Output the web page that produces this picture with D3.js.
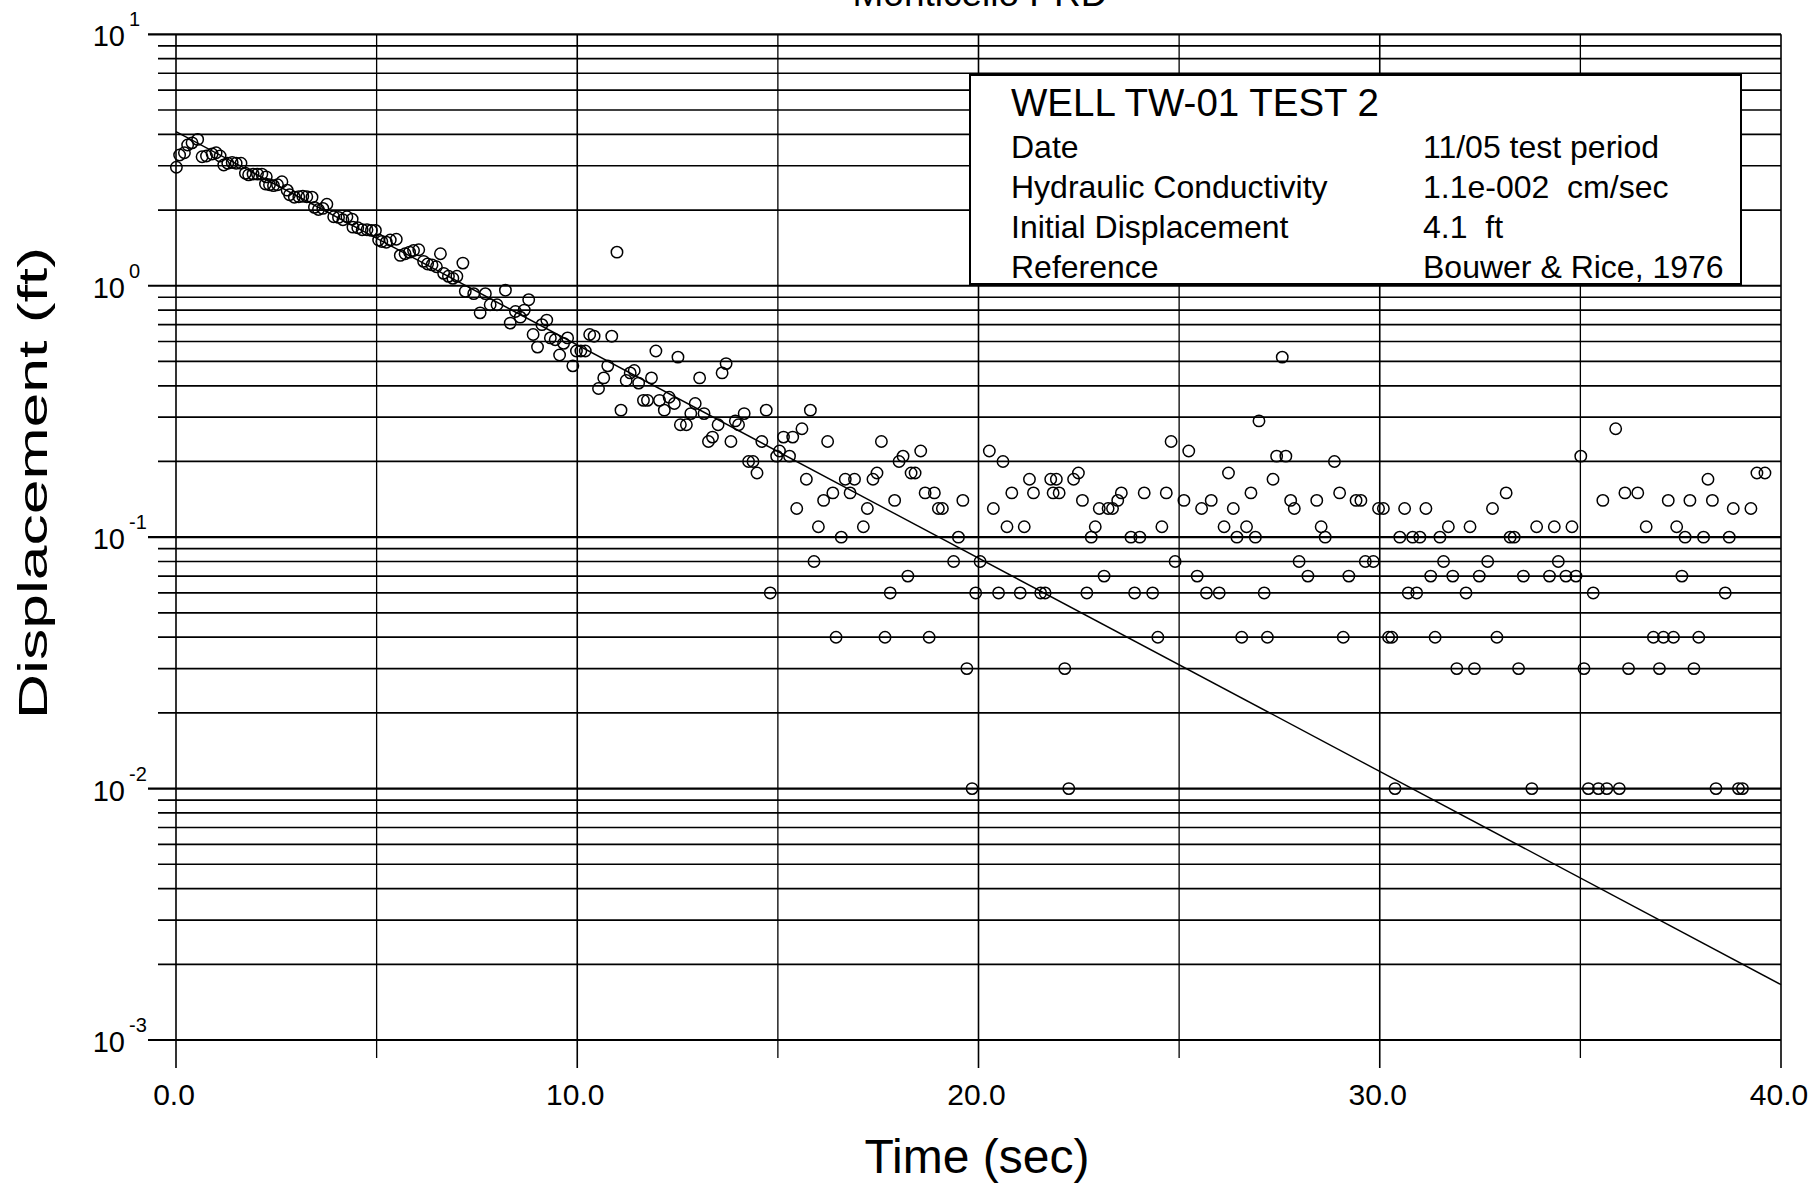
<!DOCTYPE html>
<html><head><meta charset="utf-8">
<script src="https://cdn.jsdelivr.net/npm/d3@7/dist/d3.min.js"></script>
<style>
html,body{margin:0;padding:0;background:#fff;}
svg{display:block;font-family:"Liberation Sans",Arial,Helvetica,sans-serif;}
</style></head><body>
<svg id="chart" width="1818" height="1186"></svg>
<script>
// ---- data ----
const times = [0.01,0.09,0.21,0.29,0.40,0.54,0.65,0.76,0.90,1.00,1.10,1.19,1.29,1.40,1.50,1.62,1.73,1.81,1.92,2.03,
2.14,2.23,2.25,2.33,2.43,2.53,2.64,2.77,2.83,2.95,3.06,3.16,3.26,3.39,3.45,3.55,3.66,3.76,3.93,4.05,
4.16,4.26,4.39,4.41,4.53,4.64,4.76,4.87,4.97,5.05,5.13,5.24,5.34,5.49,5.59,5.71,5.82,5.92,6.05,6.17,
6.27,6.38,6.49,6.59,6.67,6.79,6.90,7.00,7.15,7.21,7.42,7.58,7.71,7.83,8.00,8.21,8.33,8.46,8.58,8.68,
8.79,8.90,9.01,9.12,9.24,9.33,9.45,9.56,9.66,9.76,9.89,9.98,10.09,10.20,10.31,10.42,10.53,10.66,10.76,10.86,
10.99,11.09,11.22,11.32,11.42,11.53,11.65,11.75,11.85,11.96,12.05,12.17,12.29,12.42,12.51,12.57,12.72,12.83,12.94,13.05,
13.16,13.27,13.37,13.51,13.61,13.71,13.83,13.94,14.02,14.16,14.27,14.38,14.48,14.60,14.71,14.81,14.97,15.04,15.14,15.29,
15.37,15.47,15.60,15.71,15.81,15.90,16.01,16.14,16.24,16.37,16.45,16.58,16.68,16.80,16.91,17.13,17.23,17.37,17.47,17.58,
17.67,17.80,17.91,18.02,18.12,18.24,18.32,18.42,18.56,18.67,18.77,18.90,19.00,19.10,19.38,19.50,19.61,19.71,19.84,19.93,
20.04,20.27,20.37,20.50,20.61,20.71,20.83,21.04,21.14,21.27,21.37,21.55,21.66,21.80,21.86,21.94,22.01,22.15,22.25,22.37,
22.49,22.59,22.70,22.81,22.91,23.01,23.13,23.23,23.34,23.47,23.56,23.80,23.89,24.02,24.13,24.34,24.47,24.57,24.68,24.80,
24.90,25.12,25.24,25.45,25.56,25.68,25.80,26.00,26.12,26.23,26.35,26.44,26.56,26.68,26.79,26.90,26.99,27.12,27.20,27.34,
27.43,27.57,27.66,27.78,27.87,27.99,28.21,28.43,28.54,28.64,28.87,29.00,29.09,29.23,29.41,29.53,29.64,29.84,29.97,30.09,
30.22,30.30,30.38,30.50,30.62,30.71,30.82,30.92,31.00,31.15,31.27,31.38,31.50,31.59,31.71,31.82,31.92,32.15,32.25,32.36,
32.48,32.69,32.81,32.92,33.15,33.25,33.35,33.46,33.58,33.79,33.91,34.23,34.35,34.45,34.64,34.79,34.89,35.01,35.09,35.20,
35.32,35.45,35.56,35.66,35.88,35.97,36.11,36.20,36.43,36.64,36.82,36.97,37.07,37.19,37.32,37.40,37.53,37.61,37.73,37.83,
37.95,38.07,38.18,38.29,38.38,38.61,38.71,38.81,38.94,39.04,39.25,39.40,39.60];
const displacements = [2.96,3.31,3.38,3.63,3.70,3.82,3.26,3.28,3.34,3.38,3.28,3.02,3.07,3.09,3.07,3.07,2.80,2.76,2.78,2.78,
2.78,2.54,2.71,2.52,2.50,2.52,2.59,2.40,2.30,2.25,2.26,2.27,2.26,2.25,2.05,2.01,2.03,2.11,1.88,1.87,
1.83,1.88,1.84,1.71,1.70,1.67,1.67,1.66,1.66,1.52,1.50,1.49,1.52,1.53,1.32,1.34,1.36,1.38,1.39,1.25,
1.22,1.21,1.19,1.34,1.12,1.09,1.07,1.09,1.23,0.95,0.93,0.78,0.93,0.84,0.84,0.96,0.71,0.79,0.75,0.80,
0.88,0.64,0.57,0.70,0.73,0.62,0.61,0.53,0.59,0.62,0.48,0.55,0.55,0.55,0.64,0.63,0.39,0.43,0.48,0.63,
1.36,0.32,0.42,0.45,0.46,0.41,0.35,0.35,0.43,0.55,0.35,0.32,0.36,0.34,0.52,0.28,0.28,0.31,0.34,0.43,
0.31,0.24,0.25,0.28,0.45,0.49,0.24,0.29,0.28,0.31,0.20,0.20,0.18,0.24,0.32,0.06,0.21,0.22,0.25,0.21,
0.25,0.13,0.27,0.17,0.32,0.08,0.11,0.14,0.24,0.15,0.04,0.10,0.17,0.15,0.17,0.11,0.13,0.17,0.18,0.24,
0.04,0.06,0.14,0.20,0.21,0.07,0.18,0.18,0.22,0.15,0.04,0.15,0.13,0.13,0.08,0.10,0.14,0.03,0.01,0.06,
0.08,0.22,0.13,0.06,0.20,0.11,0.15,0.06,0.11,0.17,0.15,0.06,0.06,0.17,0.15,0.17,0.15,0.03,0.01,0.17,
0.18,0.14,0.06,0.10,0.11,0.13,0.07,0.13,0.13,0.14,0.15,0.10,0.06,0.10,0.15,0.06,0.04,0.11,0.15,0.24,
0.08,0.14,0.22,0.07,0.13,0.06,0.14,0.06,0.11,0.18,0.13,0.10,0.04,0.11,0.15,0.10,0.29,0.06,0.04,0.17,
0.21,0.52,0.21,0.14,0.13,0.08,0.07,0.14,0.11,0.10,0.20,0.15,0.04,0.07,0.14,0.14,0.08,0.08,0.13,0.13,
0.04,0.04,0.01,0.10,0.13,0.06,0.10,0.06,0.10,0.13,0.07,0.04,0.10,0.08,0.11,0.07,0.03,0.06,0.11,0.03,
0.07,0.08,0.13,0.04,0.15,0.10,0.10,0.03,0.07,0.01,0.11,0.07,0.11,0.08,0.07,0.11,0.07,0.21,0.03,0.01,
0.06,0.01,0.14,0.01,0.27,0.01,0.15,0.03,0.15,0.11,0.04,0.03,0.04,0.14,0.04,0.11,0.07,0.10,0.14,0.03,
0.04,0.10,0.17,0.14,0.01,0.06,0.10,0.13,0.01,0.01,0.13,0.18,0.18];
// straight-line (Bouwer & Rice) fit, end points
const fitTimes = [0, 40];
const fitValues = [4.1, 0.00166];
const xMajorTicks = [0, 10, 20, 30, 40];
const xMinorTicks = [5, 15, 25, 35];
const yDecadeExponents = [-3, -2, -1, 0, 1];
const yMinorMultipliers = [2, 3, 4, 5, 6, 7, 8, 9];
const chartTitle = "Monticello PRD";
const xAxisTitle = "Time (sec)";
const yAxisTitle = "Displacement (ft)";
const legendTitle = "WELL TW-01 TEST 2";
const legendLabels = ["Date", "Hydraulic Conductivity", "Initial Displacement", "Reference"];
const legendValues = ["11/05 test period", "1.1e-002  cm/sec", "4.1  ft", "Bouwer & Rice, 1976"];

// ---- drawing ----
const svg = d3.select("#chart");
const x = d3.scaleLinear().domain([0, 40]).range([176, 1781]);
const y = d3.scaleLog().domain([0.001, 10]).range([1040, 34.3]);

const hLines = [];
yDecadeExponents.forEach(e => {
  hLines.push({ v: Math.pow(10, e), major: true });
  if (e < 1) yMinorMultipliers.forEach(m => hLines.push({ v: m * Math.pow(10, e), major: false }));
});
const vLines = xMajorTicks.map(t => ({ t, major: true })).concat(xMinorTicks.map(t => ({ t, major: false })));

const grid = svg.append("g");
grid.selectAll("line.h").data(hLines).join("line").attr("class", "h")
  .attr("x1", d => x(0) - (d.major ? 28 : 18)).attr("x2", x(40))
  .attr("y1", d => y(d.v)).attr("y2", d => y(d.v))
  .attr("stroke", "#000").attr("stroke-width", d => d.major ? 2.2 : 1.7);
grid.selectAll("line.v").data(vLines).join("line").attr("class", "v")
  .attr("x1", d => x(d.t)).attr("x2", d => x(d.t))
  .attr("y1", y(10)).attr("y2", d => y(0.001) + (d.major ? 28 : 18))
  .attr("stroke", "#000").attr("stroke-width", d => d.major ? 1.6 : 1.3);

// fit line
svg.append("path")
  .datum(fitTimes.map((t, i) => [t, fitValues[i]]))
  .attr("fill", "none").attr("stroke", "#000").attr("stroke-width", 1.4)
  .attr("d", d3.line().x(d => x(d[0])).y(d => y(d[1])));

// observations
svg.append("g").selectAll("circle").data(times.map((t, i) => [t, displacements[i]])).join("circle")
  .attr("cx", d => x(d[0])).attr("cy", d => y(d[1])).attr("r", 5.7)
  .attr("fill", "none").attr("stroke", "#000").attr("stroke-width", 1.5);

// x tick labels
svg.append("g").selectAll("text").data(xMajorTicks).join("text")
  .attr("x", d => x(d) - 2).attr("y", 1105).attr("text-anchor", "middle")
  .attr("font-size", 30).text(d => d3.format(".1f")(d));

// y tick labels (10^n)
const yl = svg.append("g").selectAll("g").data(yDecadeExponents).join("g");
yl.append("text").attr("x", 125).attr("y", d => y(Math.pow(10, d)) + 12)
  .attr("text-anchor", "end").attr("font-size", 29).text("10");
yl.append("text").attr("x", 129).attr("y", d => y(Math.pow(10, d)) - 8)
  .attr("text-anchor", "start").attr("font-size", 20).text(d => String(d));

// titles
svg.append("text").attr("x", 980).attr("y", 6).attr("text-anchor", "middle")
  .attr("font-size", 37).text(chartTitle);
svg.append("text").attr("x", 977).attr("y", 1173).attr("text-anchor", "middle")
  .attr("font-size", 48).text(xAxisTitle);
svg.append("text").attr("transform", "translate(47,483) rotate(-90)")
  .attr("text-anchor", "middle").attr("font-size", 40)
  .attr("textLength", 472).attr("lengthAdjust", "spacingAndGlyphs").text(yAxisTitle);

// legend box
const lg = svg.append("g");
lg.append("rect").attr("x", 970).attr("y", 75).attr("width", 771).attr("height", 209)
  .attr("fill", "#fff").attr("stroke", "#000").attr("stroke-width", 2);
lg.append("text").attr("x", 1011).attr("y", 116).attr("font-size", 38.5).text(legendTitle);
lg.selectAll("text.l").data(legendLabels).join("text").attr("class", "l")
  .attr("x", 1011).attr("y", (d, i) => 158 + i * 40).attr("font-size", 32).text(d => d);
lg.selectAll("text.r").data(legendValues).join("text").attr("class", "r")
  .attr("x", 1423).attr("y", (d, i) => 158 + i * 40).attr("font-size", 32)
  .style("white-space", "pre").text(d => d);
</script>
</body></html>
